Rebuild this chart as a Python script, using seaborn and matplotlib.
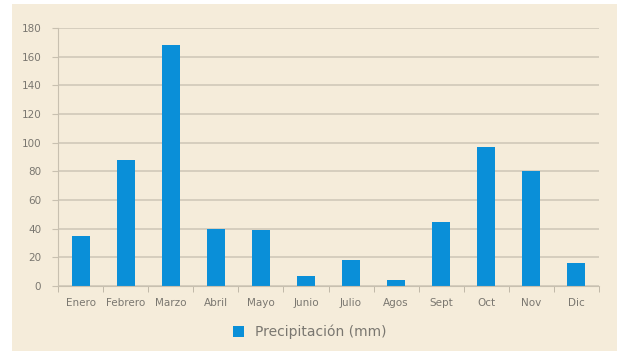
import pandas as pd
import seaborn as sns
import matplotlib.pyplot as plt
from matplotlib.patches import Rectangle

# datos de precipitación mensual
meses = ["Enero", "Febrero", "Marzo", "Abril", "Mayo", "Junio",
         "Julio", "Agos", "Sept", "Oct", "Nov", "Dic"]
precipitacion = [35, 88, 168, 40, 39, 7, 18, 4, 45, 97, 80, 16]
y_ticks = [0, 20, 40, 60, 80, 100, 120, 140, 160, 180]

df = pd.DataFrame({"Mes": meses, "Precipitacion": precipitacion})

fondo = "#f5ecda"
gris = "#7a7770"

fig = plt.figure(figsize=(6.19, 3.51), dpi=100)
fig.patch.set_facecolor("white")
fig.patches.append(Rectangle((12 / 619, 0), 605 / 619, 347 / 351,
                             transform=fig.transFigure, facecolor=fondo,
                             edgecolor="none", zorder=-10))

ax = fig.add_axes([58 / 619, 1 - 286 / 351, 541 / 619, 258 / 351])
ax.set_facecolor(fondo)

sns.barplot(data=df, x="Mes", y="Precipitacion", color="#0a8fd8",
            saturation=1, width=0.4, label="Precipitación (mm)", ax=ax)

ax.set_ylim(0, 180)
ax.set_xlim(-0.5, len(meses) - 0.5)
ax.set_yticks(y_ticks)
ax.yaxis.grid(True, color="#d6cebe", linewidth=1.4)
ax.set_axisbelow(True)
ax.set_xlabel("")
ax.set_ylabel("")

for lado in ["top", "right"]:
    ax.spines[lado].set_visible(False)
ax.spines["left"].set_color("#c8c0b0")
ax.spines["bottom"].set_color("#c8c0b0")

# marcas del eje x entre categorías
ax.set_xticks([i - 0.5 for i in range(len(meses) + 1)], minor=True)
ax.tick_params(axis="x", which="minor", length=4, color="#b8b0a0")
ax.tick_params(axis="x", which="major", length=0, pad=9, labelsize=7.5, labelcolor=gris)
ax.tick_params(axis="y", length=4, color="#c8c0b0", pad=8, labelsize=7.5, labelcolor=gris)

fig.legend(loc="center", bbox_to_anchor=(0.5, 1 - 332 / 351), frameon=False,
           fontsize=10, labelcolor=gris, handlelength=0.8, handleheight=0.8,
           handletextpad=0.8)
ax.get_legend().remove() if ax.get_legend() else None

plt.savefig("out.png", dpi=100)
